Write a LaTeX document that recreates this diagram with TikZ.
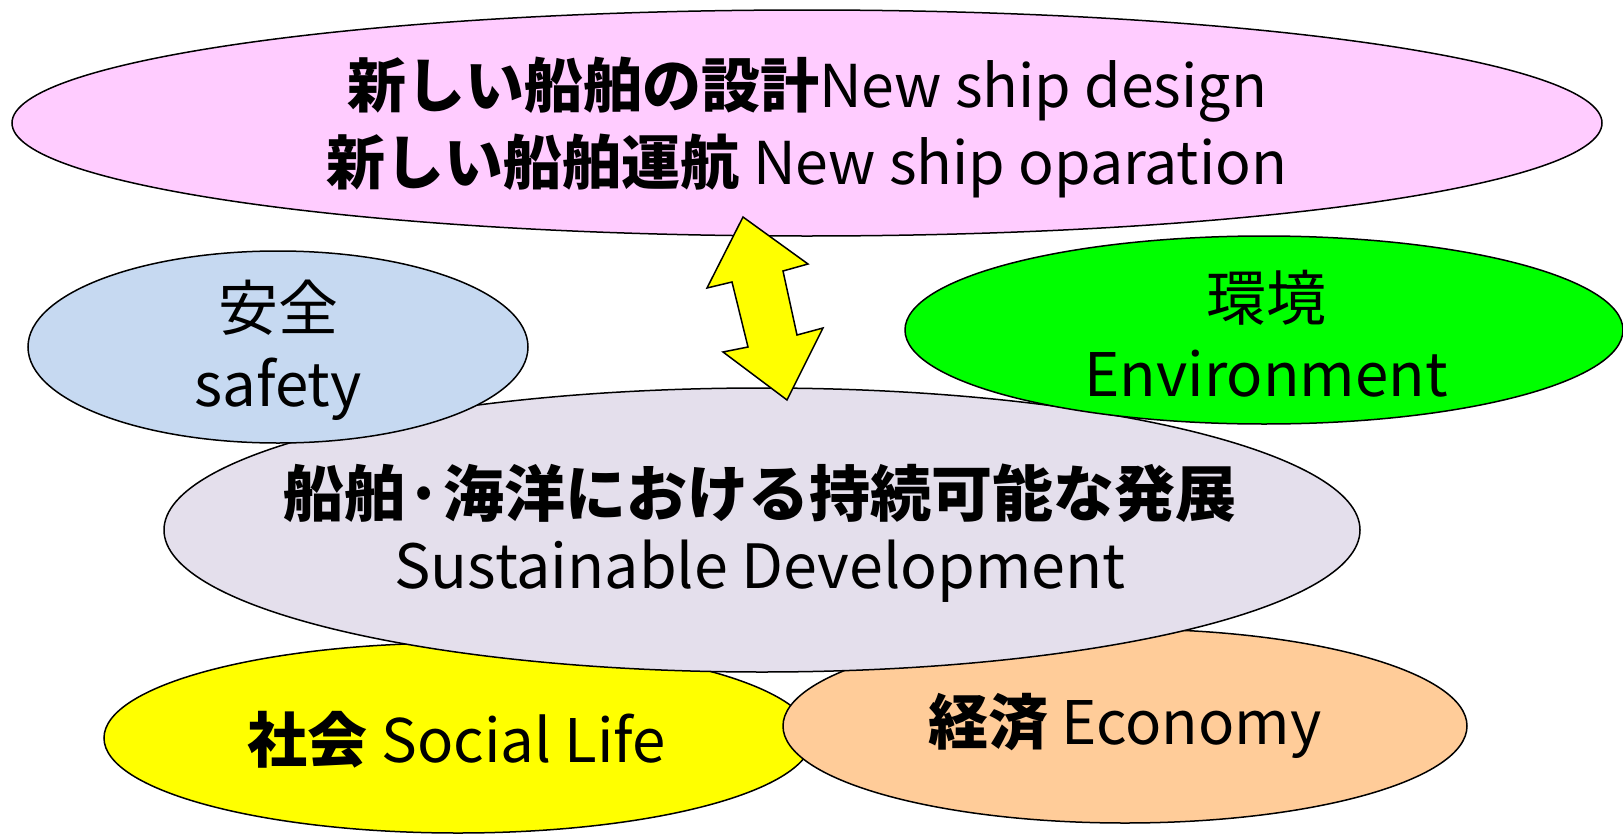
\documentclass[tikz,border=0pt]{standalone}
\usepackage{fontspec}
\setmainfont{Noto Sans CJK JP}
\usetikzlibrary{shapes.geometric}
\definecolor{topfill}{RGB}{255,204,255}
\definecolor{safefill}{RGB}{198,217,241}
\definecolor{envfill}{RGB}{0,255,0}
\definecolor{sdfill}{RGB}{228,223,236}
\definecolor{socfill}{RGB}{255,255,0}
\definecolor{ecofill}{RGB}{255,204,153}
\definecolor{arrowfill}{RGB}{255,255,0}
\begin{document}
\begin{tikzpicture}[x=1pt,y=-1pt,
  blob/.style={ellipse, draw=black, line width=1.5pt, inner sep=0pt},
  txt/.style={align=center, inner sep=0pt, text=black, font=\fontsize{60}{64}\selectfont},
  toptxt/.style={txt, font=\fontsize{59}{77}\selectfont},
  sdtxt/.style={txt, font=\fontsize{61}{72}\selectfont},
  pairtxt/.style={txt, font=\fontsize{60}{76}\selectfont},
  blockarrow/.style={draw=black, line width=1.5pt, fill=arrowfill, line join=miter}]
\useasboundingbox (0,0) rectangle (1623,835);
% ellipses
\node[blob, fill=topfill, minimum width=1590pt, minimum height=226pt] (top) at (807,123) {};
\node[toptxt] (toptext) at (807,128) {\textbf{新しい船舶の設計}New ship design\\\textbf{新しい船舶運航} New ship oparation};
\node[blob, fill=socfill, minimum width=708pt, minimum height=190pt] (soc) at (458,738) {};
\node[blob, fill=ecofill, minimum width=684pt, minimum height=194pt] (eco) at (1125,726) {};
\node[blob, fill=sdfill, minimum width=1196pt, minimum height=284pt] (sd) at (762,530) {};
\node[blob, fill=safefill, minimum width=500pt, minimum height=192pt] (safe) at (278,347) {};
\node[blob, fill=envfill, minimum width=718pt, minimum height=188pt] (env) at (1264,330) {};
% texts
\node[txt] (soctext) at (457,740) {\textbf{社会} Social Life};
\node[txt] (ecotext) at (eco) {\textbf{経済} Economy};
\node[sdtxt] (sdtext) at (760,533) {\textbf{船舶·海洋における持続可能な発展}\\Sustainable Development};
\node[pairtxt] (safetext) at (278,350) {安全\\safety};
\node[pairtxt] (envtext) at (1266,334) {環境\\Environment};
% double block arrow between top and sd
\coordinate (atop) at (743,217);
\coordinate (abot) at (787,400);
\draw[blockarrow] (atop) -- (808,264) -- (783,271) -- (797,335) -- (823,328) -- (abot)
  -- (723,352) -- (748,347) -- (732,282) -- (707,288) -- cycle;
\end{tikzpicture}
\end{document}
